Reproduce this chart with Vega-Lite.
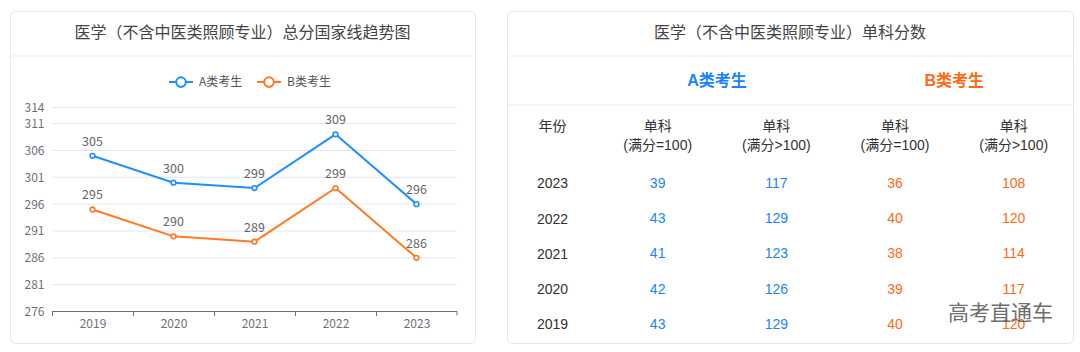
{
  "$schema": "https://vega.github.io/schema/vega-lite/v6.json",
  "background": "white",
  "padding": {"left": 9, "top": 10, "right": 10, "bottom": 10},
  "spacing": 30,
  "config": {
    "view": {"stroke": "#e6e6e6", "cornerRadius": 5, "strokeWidth": 1, "fill": "white"},
    "font": "Noto Sans CJK SC",
    "title": {"fontSize": 16, "fontWeight": "normal", "color": "#444444", "font": "Noto Sans CJK SC", "anchor": "middle"}
  },
  "resolve": {"scale": {"color": "independent", "stroke": "independent", "x": "independent", "y": "independent"}},
  "hconcat": [
    {
      "width": 465,
      "height": 332,
      "title": {"text": "医学（不含中医类照顾专业）总分国家线趋势图", "offset": -30},
      "layer": [
        {
          "data": {"values": [{"tick": 281}, {"tick": 286}, {"tick": 291}, {"tick": 296}, {"tick": 301}, {"tick": 306}, {"tick": 311}, {"tick": 314}]},
          "mark": {"type": "rule", "color": "#e0e6f1", "strokeWidth": 1},
          "encoding": {
            "x": {"datum": 2018.5, "type": "quantitative", "title": null, "scale": {"domain": [2017.9815, 2023.7222], "nice": false, "zero": false}},
            "x2": {"datum": 2023.5},
            "y": {"field": "tick", "type": "quantitative", "title": null, "scale": {"domain": [270.132, 331.975], "nice": false, "zero": false}}
          }
        },
        {
          "data": {"values": [{}]},
          "mark": {"type": "rule", "color": "#ececec", "strokeWidth": 1},
          "encoding": {
            "y": {"datum": 323.6, "type": "quantitative", "title": null}
          }
        },
        {
          "data": {"values": [{}]},
          "mark": {"type": "rule", "color": "#6e7079", "strokeWidth": 1},
          "encoding": {
            "x": {"datum": 2018.5, "type": "quantitative", "title": null},
            "x2": {"datum": 2023.5},
            "y": {"datum": 276, "type": "quantitative", "title": null}
          }
        },
        {
          "data": {"values": [{}]},
          "mark": {"type": "rule", "color": "#6e7079", "strokeWidth": 1},
          "encoding": {
            "x": {"datum": 2023.5, "type": "quantitative", "title": null},
            "y": {"datum": 276, "type": "quantitative", "title": null},
            "y2": {"datum": 275.255}
          }
        },
        {
          "data": {"values": [
            {"year": 2019, "cat": "A类考生", "score": 305},
            {"year": 2020, "cat": "A类考生", "score": 300},
            {"year": 2021, "cat": "A类考生", "score": 299},
            {"year": 2022, "cat": "A类考生", "score": 309},
            {"year": 2023, "cat": "A类考生", "score": 296},
            {"year": 2019, "cat": "B类考生", "score": 295},
            {"year": 2020, "cat": "B类考生", "score": 290},
            {"year": 2021, "cat": "B类考生", "score": 289},
            {"year": 2022, "cat": "B类考生", "score": 299},
            {"year": 2023, "cat": "B类考生", "score": 286}
          ]},
          "mark": {"type": "line", "strokeWidth": 2},
          "encoding": {
            "x": {"field": "year", "type": "quantitative", "title": null,
              "scale": {"domain": [2017.9815, 2023.7222], "nice": false, "zero": false},
              "axis": {"orient": "bottom", "offset": -31.5, "values": [2018.5, 2019.5, 2020.5, 2021.5, 2022.5],
                "labelExpr": "toString(datum.value + 0.5)",
                "labelOffset": 40.5, "labelFlush": false, "labelOverlap": false, "labelBound": false,
                "tickSize": 4, "tickColor": "#6e7079", "ticks": true, "domain": false, "grid": false,
                "labelPadding": 3, "labelFontSize": 12, "labelColor": "#6e7079", "labelFont": "Noto Sans CJK SC", "title": null}},
            "y": {"field": "score", "type": "quantitative", "title": null,
              "scale": {"domain": [270.132, 331.975], "nice": false, "zero": false},
              "axis": {"orient": "left", "offset": -42, "values": [276, 281, 286, 291, 296, 301, 306, 311, 314],
                "ticks": false, "domain": false, "grid": false, "labelPadding": 8, "labelFontSize": 12,
                "labelColor": "#6e7079", "labelFont": "Noto Sans CJK SC", "labelFlush": false, "labelOverlap": false, "labelBound": false, "title": null}},
            "stroke": {"field": "cat", "type": "nominal", "title": null,
              "scale": {"domain": ["A类考生", "B类考生"], "range": ["#1e90ff", "#ff7a22"]},
              "legend": {"orient": "none", "legendX": 158, "legendY": 58, "direction": "horizontal", "padding": 0,
                "symbolType": "M-1,0H-0.4M0.4,0H1M0.4,0A0.4,0.4,0,1,1,-0.4,0A0.4,0.4,0,1,1,0.4,0",
                "symbolSize": 576, "symbolStrokeWidth": 2, "symbolFillColor": "white",
                "labelFontSize": 12, "labelColor": "#555555", "labelFont": "Noto Sans CJK SC", "labelOffset": 5, "columnPadding": 10, "title": null}}
          }
        },
        {
          "data": {"values": [
            {"year": 2019, "cat": "A类考生", "score": 305},
            {"year": 2020, "cat": "A类考生", "score": 300},
            {"year": 2021, "cat": "A类考生", "score": 299},
            {"year": 2022, "cat": "A类考生", "score": 309},
            {"year": 2023, "cat": "A类考生", "score": 296},
            {"year": 2019, "cat": "B类考生", "score": 295},
            {"year": 2020, "cat": "B类考生", "score": 290},
            {"year": 2021, "cat": "B类考生", "score": 289},
            {"year": 2022, "cat": "B类考生", "score": 299},
            {"year": 2023, "cat": "B类考生", "score": 286}
          ]},
          "mark": {"type": "point", "shape": "circle", "size": 22, "filled": false, "fill": "white", "fillOpacity": 1, "strokeWidth": 1.6, "opacity": 1},
          "encoding": {
            "x": {"field": "year", "type": "quantitative", "title": null},
            "y": {"field": "score", "type": "quantitative", "title": null},
            "stroke": {"field": "cat", "type": "nominal", "title": null}
          }
        },
        {
          "data": {"values": [
            {"year": 2019, "cat": "A类考生", "score": 305},
            {"year": 2020, "cat": "A类考生", "score": 300},
            {"year": 2021, "cat": "A类考生", "score": 299},
            {"year": 2022, "cat": "A类考生", "score": 309},
            {"year": 2023, "cat": "A类考生", "score": 296},
            {"year": 2019, "cat": "B类考生", "score": 295},
            {"year": 2020, "cat": "B类考生", "score": 290},
            {"year": 2021, "cat": "B类考生", "score": 289},
            {"year": 2022, "cat": "B类考生", "score": 299},
            {"year": 2023, "cat": "B类考生", "score": 286}
          ]},
          "mark": {"type": "text", "baseline": "alphabetic", "dy": -10, "fontSize": 12.5, "color": "#666666", "font": "Noto Sans CJK SC"},
          "encoding": {
            "x": {"field": "year", "type": "quantitative", "title": null},
            "y": {"field": "score", "type": "quantitative", "title": null},
            "text": {"field": "score", "type": "quantitative"}
          }
        }
      ]
    },
    {
      "width": 566,
      "height": 332,
      "title": {"text": "医学（不含中医类照顾专业）单科分数", "offset": -30},
      "layer": [
        {
          "data": {"values": [{"line": 2026.614}, {"line": 2025.227}]},
          "mark": {"type": "rule", "color": "#ececec", "strokeWidth": 1},
          "encoding": {
            "y": {"field": "line", "type": "quantitative", "title": "年份",
              "scale": {"domain": [2018.49, 2027.888], "nice": false, "zero": false}}
          }
        },
        {
          "data": {"values": [
            {"year": 2023, "col": "A_eq", "group": "A", "value": 39},
            {"year": 2023, "col": "A_gt", "group": "A", "value": 117},
            {"year": 2023, "col": "B_eq", "group": "B", "value": 36},
            {"year": 2023, "col": "B_gt", "group": "B", "value": 108},
            {"year": 2022, "col": "A_eq", "group": "A", "value": 43},
            {"year": 2022, "col": "A_gt", "group": "A", "value": 129},
            {"year": 2022, "col": "B_eq", "group": "B", "value": 40},
            {"year": 2022, "col": "B_gt", "group": "B", "value": 120},
            {"year": 2021, "col": "A_eq", "group": "A", "value": 41},
            {"year": 2021, "col": "A_gt", "group": "A", "value": 123},
            {"year": 2021, "col": "B_eq", "group": "B", "value": 38},
            {"year": 2021, "col": "B_gt", "group": "B", "value": 114},
            {"year": 2020, "col": "A_eq", "group": "A", "value": 42},
            {"year": 2020, "col": "A_gt", "group": "A", "value": 126},
            {"year": 2020, "col": "B_eq", "group": "B", "value": 39},
            {"year": 2020, "col": "B_gt", "group": "B", "value": 117},
            {"year": 2019, "col": "A_eq", "group": "A", "value": 43},
            {"year": 2019, "col": "A_gt", "group": "A", "value": 129},
            {"year": 2019, "col": "B_eq", "group": "B", "value": 40},
            {"year": 2019, "col": "B_gt", "group": "B", "value": 120}
          ]},
          "mark": {"type": "text", "fontSize": 14, "font": "'Liberation Sans', 'Noto Sans CJK SC'", "baseline": "middle", "align": "center"},
          "encoding": {
            "x": {"field": "col", "type": "nominal", "title": null,
              "scale": {"type": "band", "domain": ["A_eq", "A_gt", "B_eq", "B_gt"], "paddingInner": 0, "paddingOuter": 0.3847, "align": 1},
              "axis": {"orient": "top", "offset": -115.7, "ticks": false, "domain": false, "grid": false, "labelPadding": 0,
                "labelBaseline": "middle", "labelAngle": 0, "labelOverlap": false,
                "labelExpr": "indexof(datum.value, 'eq') >= 0 ? ['单科', '(满分=100)'] : ['单科', '(满分>100)']",
                "labelFontSize": 14, "labelLineHeight": 19.3, "labelColor": "#333333", "labelFont": "'Liberation Sans', 'Noto Sans CJK SC'", "title": null}},
            "y": {"field": "year", "type": "quantitative", "title": "年份",
              "scale": {"domain": [2018.49, 2027.888], "nice": false, "zero": false},
              "axis": {"orient": "left", "offset": -45, "values": [2019, 2020, 2021, 2022, 2023], "format": "d",
                "ticks": false, "domain": false, "grid": false, "labelPadding": 0, "labelAlign": "center", "labelBaseline": "middle",
                "labelFontSize": 14, "labelColor": "#333333", "labelFont": "Liberation Sans", "labelFlush": false, "labelOverlap": false, "labelBound": false,
                "title": "年份", "titleAngle": 0, "titleX": 0, "titleY": 115.7, "titleAlign": "center", "titleBaseline": "middle",
                "titleFontSize": 14, "titleFontWeight": "normal", "titleColor": "#333333", "titleFont": "Noto Sans CJK SC"}},
            "color": {"field": "group", "type": "nominal", "legend": null,
              "scale": {"domain": ["A", "B"], "range": ["#1a84ff", "#ff6a14"]}},
            "text": {"field": "value", "type": "quantitative"}
          }
        },
        {
          "data": {"values": [
            {"col": "A_eq", "group": "A", "label": "A类考生"},
            {"col": "B_eq", "group": "B", "label": "B类考生"}
          ]},
          "mark": {"type": "text", "fontSize": 16, "fontWeight": "bold", "font": "'Liberation Sans', 'Noto Sans CJK SC'", "baseline": "middle", "align": "center"},
          "encoding": {
            "x": {"field": "col", "type": "nominal", "bandPosition": 1, "title": null},
            "y": {"datum": 2025.907, "type": "quantitative", "title": "年份"},
            "color": {"field": "group", "type": "nominal", "legend": null},
            "text": {"field": "label", "type": "nominal"}
          }
        },
        {
          "data": {"values": [{"label": "高考直通车"}]},
          "mark": {"type": "text", "fontSize": 21, "font": "Noto Sans CJK SC", "baseline": "middle", "align": "center", "color": "#555555", "opacity": 0.85},
          "encoding": {
            "x": {"datum": "B_gt", "type": "nominal", "bandPosition": 0.39, "title": null},
            "y": {"datum": 2019.31, "type": "quantitative", "title": "年份"},
            "text": {"field": "label", "type": "nominal"}
          }
        }
      ]
    }
  ]
}
